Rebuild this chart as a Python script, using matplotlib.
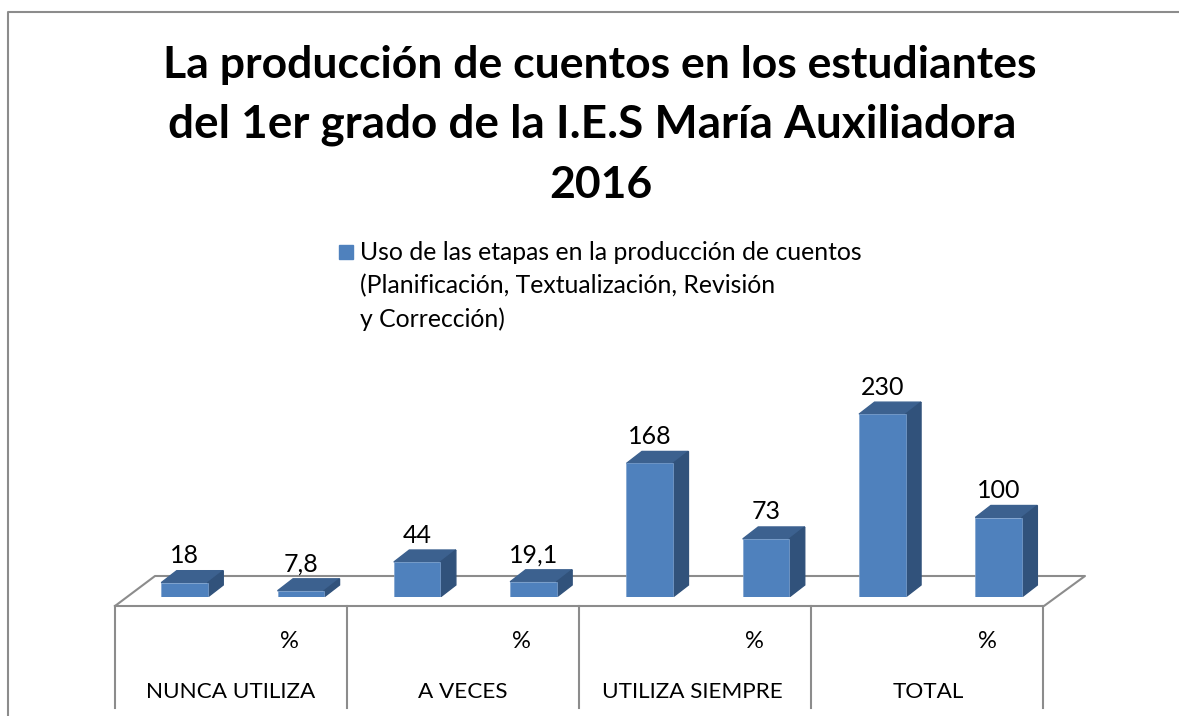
import matplotlib
matplotlib.use('Agg')
import matplotlib.pyplot as plt
from matplotlib.patches import Polygon

plt.rcParams['font.family'] = ['Lato', 'DejaVu Sans']

values = [18, 7.8, 44, 19.1, 168, 73, 230, 100]
value_labels = ['18', '7,8', '44', '19,1', '168', '73', '230', '100']
sub_labels = ['', '%', '', '%', '', '%', '', '%']
groups = ['NUNCA UTILIZA', 'A VECES', 'UTILIZA SIEMPRE', 'TOTAL']
title_lines = ['La producción de cuentos en los estudiantes',
               'del 1er grado de la I.E.S María Auxiliadora',
               '2016']
legend_lines = ['Uso de las etapas en la producción de cuentos',
                '(Planificación, Textualización, Revisión',
                'y Corrección)']

W, H = 1179, 716
FRONT = '#4f81bd'
TOP = '#3c618f'
SIDE = '#31527b'
GRAY = '#8c8c8c'

fig = plt.figure(figsize=(W / 100, H / 100), dpi=100)

# pixel axes for the frame, floor, table and text
bg = fig.add_axes([0, 0, 1, 1])
bg.set_xlim(0, W)
bg.set_ylim(H, 0)
bg.axis('off')

bg.plot([8, 8, W], [H, 12, 12], color=GRAY, lw=1.5)
bg.plot([115, 155, 1085, 1044, 115], [606, 576, 576, 606, 606], color=GRAY, lw=1.5)
for x in [115, 347, 579, 811, 1043]:
    bg.plot([x, x], [606, 708], color=GRAY, lw=1.5)

for i, line in enumerate(title_lines):
    bg.text([600, 592, 601][i], [65, 125, 185][i], line, ha='center', va='center',
            fontsize=[32, 33, 32][i], fontweight='bold', color='black')

bg.add_patch(Polygon([(339, 245), (353, 245), (353, 259), (339, 259)], color=FRONT))
for i, line in enumerate(legend_lines):
    bg.text(360, [253, 286, 319][i], line, ha='left', va='center', fontsize=17.8, color='black')

for i, s in enumerate(sub_labels):
    if s:
        bg.text(184.5 + 116.3 * i - 11.5, 641, s, ha='center', va='center', fontsize=17)
for i, g in enumerate(groups):
    bg.text([231, 463, 692, 928][i], 692, g, ha='center', va='center', fontsize=16.2)

# bars on their own scale, baseline at y=597
px_x = 116.3
px_y = 0.795
ax = fig.add_axes([(184.5 - 0.5 * px_x) / W, (H - 597) / H, 8 * px_x / W, 250 * px_y / H])
ax.set_xlim(-0.5, 7.5)
ax.set_ylim(0, 250)
ax.axis('off')
ax.patch.set_alpha(0)

bar_w = 46.5 / px_x
dx = 15.5 / px_x
dy = 12 / px_y
xs = list(range(len(values)))
ax.bar(xs, values, width=bar_w, color=FRONT, edgecolor='#7ea3d0', linewidth=0.5, zorder=3)
for x, v, lab in zip(xs, values, value_labels):
    l, r = x - bar_w / 2, x + bar_w / 2
    ax.add_patch(Polygon([(l, v), (r, v), (r + dx, v + dy), (l + dx, v + dy)], color=TOP, zorder=2))
    ax.add_patch(Polygon([(r, 0), (r + dx, dy), (r + dx, v + dy), (r, v)], color=SIDE, zorder=2))
    ax.annotate(lab, (x, v), xytext=(0, 19.5), textcoords='offset pixels', ha='center', va='baseline',
                fontsize=18, color='black', annotation_clip=False)

fig.savefig('out.png', dpi=100)
